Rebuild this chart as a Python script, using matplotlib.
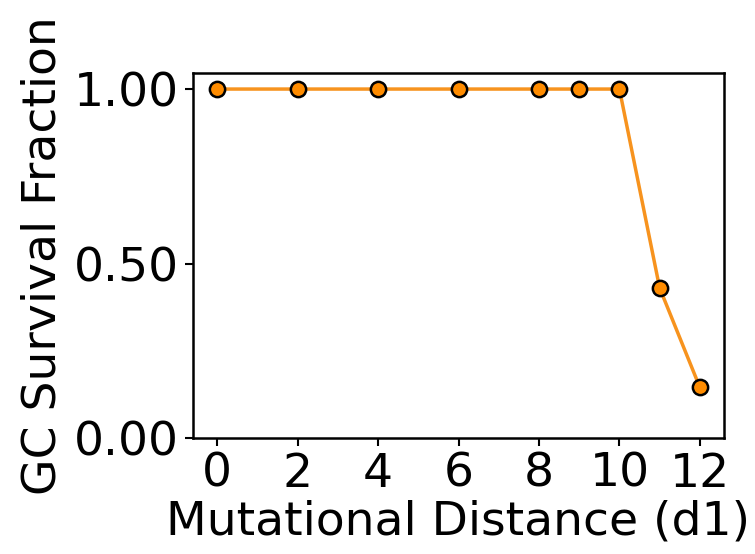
import matplotlib
matplotlib.use('Agg')
import matplotlib.pyplot as plt

# mutational distance vs germinal-centre survival fraction
d1 = [0, 2, 4, 6, 8, 9, 10, 11, 12]
survival = [1.0, 1.0, 1.0, 1.0, 1.0, 1.0, 1.0, 0.43, 0.145]
xticks = [0, 2, 4, 6, 8, 10, 12]
yticks = [0.0, 0.5, 1.0]

fig = plt.figure(figsize=(7.55, 5.54), dpi=100)
ax = fig.add_axes([193/755, 1 - 438/554, (724-193)/755, (438-73)/554])

ax.plot(d1, survival, '-o', color='#f7931e', lw=2.5,
        markerfacecolor='#ff8c00', markeredgecolor='black', markersize=11, markeredgewidth=1.8)

ax.set_xlim(-0.6, 12.6)
ax.set_ylim(0, 1.046)
ax.set_xticks(xticks)
ax.set_yticks(yticks)
ax.set_yticklabels(['%.2f' % v for v in yticks])
ax.tick_params(labelsize=34, width=1.5, length=6, pad=4)
for s in ax.spines.values():
    s.set_linewidth(1.8)

ax.set_xlabel('Mutational Distance (d1)', fontsize=34, labelpad=2)
ax.set_ylabel('GC Survival Fraction', fontsize=34, labelpad=6)

fig.savefig('out.png', dpi=100)
